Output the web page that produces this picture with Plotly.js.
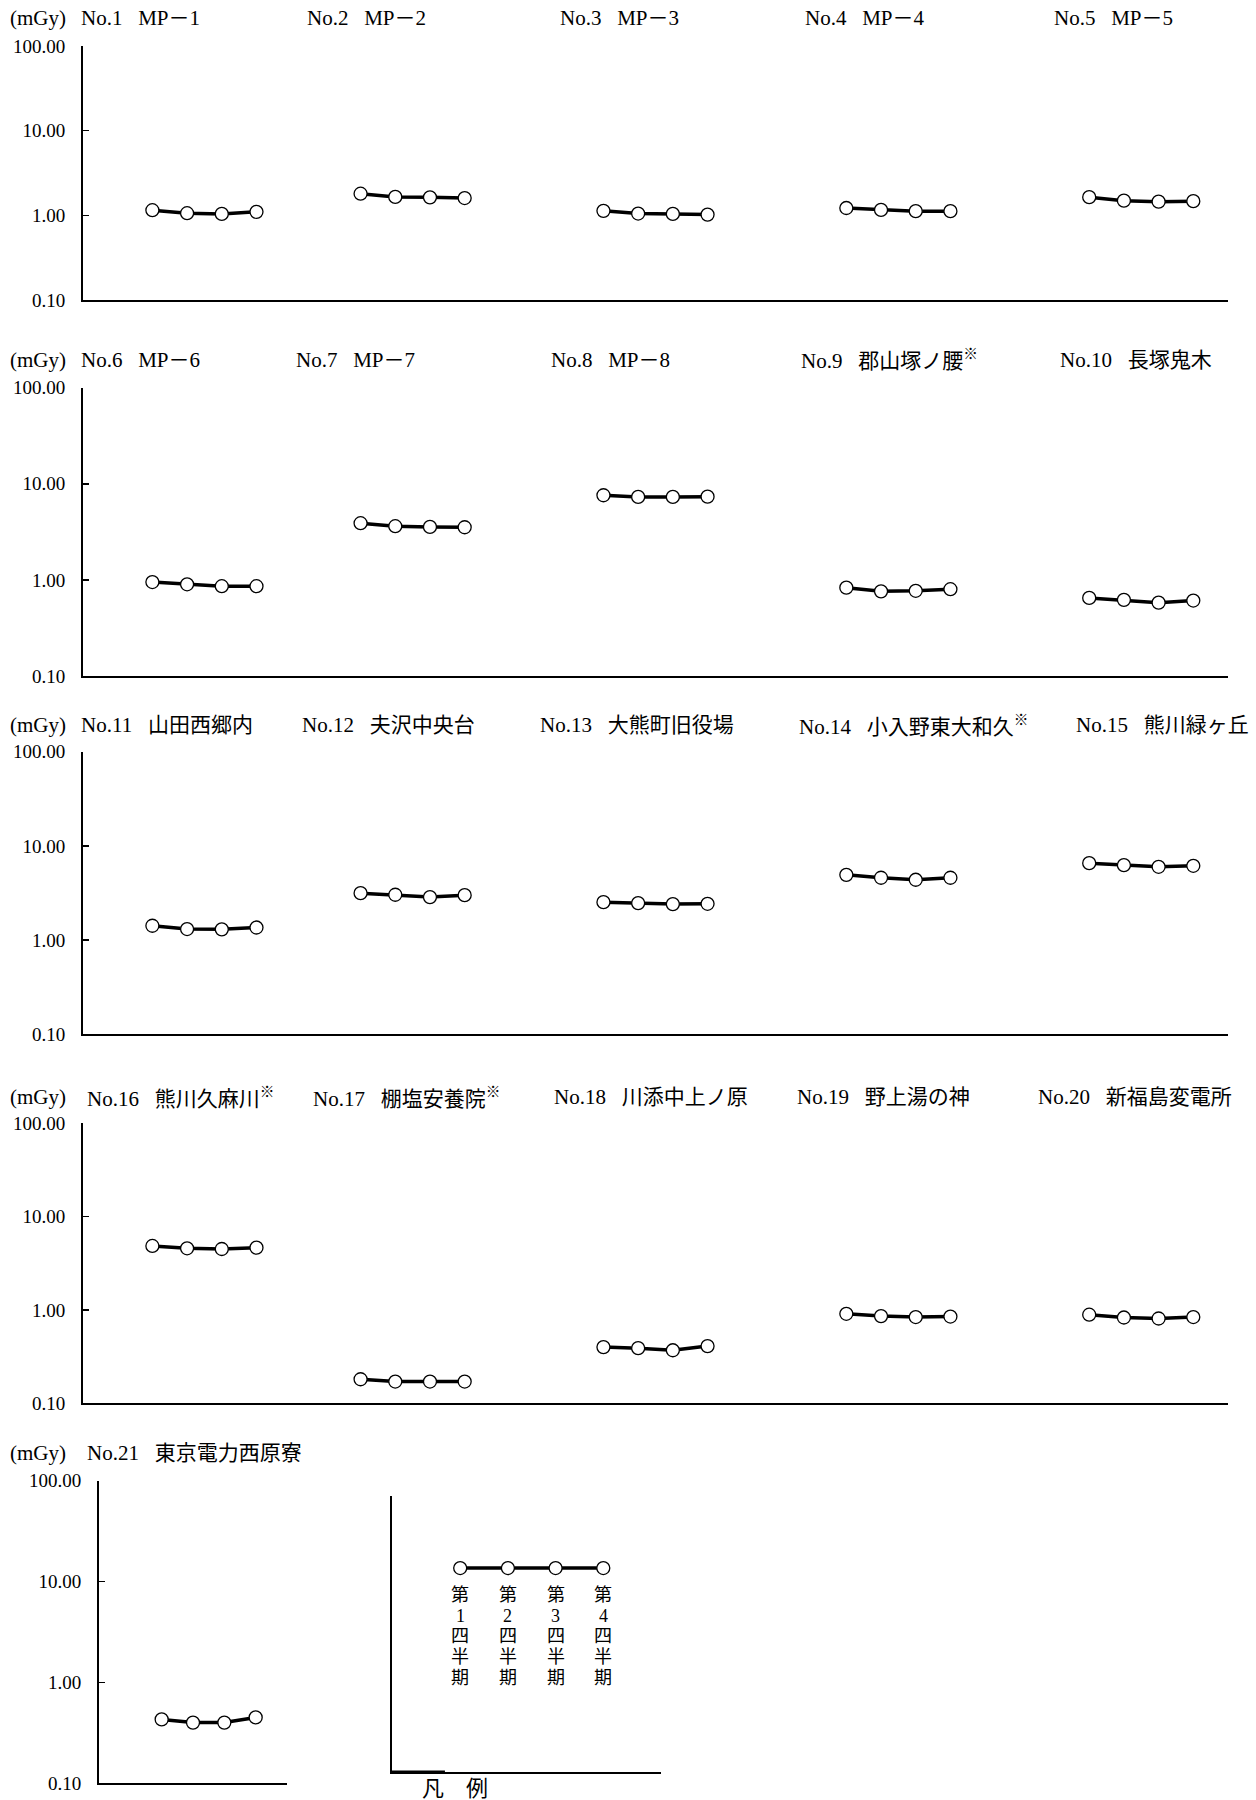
<!DOCTYPE html>
<html>
<head>
<meta charset="utf-8">
<script src="https://cdn.plot.ly/plotly-3.0.1.min.js"></script>
<style>
  html, body { margin: 0; padding: 0; background: #fff; }
  #chart { width: 1256px; height: 1800px; }
</style>
</head>
<body>
<div id="chart"></div>
<script>
// ---------------- data ----------------
const quarters = ["第1四半期", "第2四半期", "第3四半期", "第4四半期"];
const tickValues = [0.1, 1, 10, 100];
const tickLabels = ["0.10", "1.00", "10.00", "100.00"];
const unitLabel = "(mGy)";
const legendTitle = "凡\u3000例";

const stationNo = ["No.1","No.2","No.3","No.4","No.5","No.6","No.7","No.8","No.9","No.10",
  "No.11","No.12","No.13","No.14","No.15","No.16","No.17","No.18","No.19","No.20","No.21"];
const stationName = ["MP－1","MP－2","MP－3","MP－4","MP－5","MP－6","MP－7","MP－8","郡山塚ノ腰","長塚鬼木",
  "山田西郷内","夫沢中央台","大熊町旧役場","小入野東大和久","熊川緑ヶ丘",
  "熊川久麻川","棚塩安養院","川添中上ノ原","野上湯の神","新福島変電所","東京電力西原寮"];
const stationNote = ["","","","","","","","","※","","","","","※","","※","※","","","",""];

const dose_No1  = [1.15, 1.06, 1.04, 1.10];
const dose_No2  = [1.80, 1.65, 1.63, 1.60];
const dose_No3  = [1.13, 1.05, 1.04, 1.02];
const dose_No4  = [1.22, 1.16, 1.12, 1.12];
const dose_No5  = [1.64, 1.49, 1.45, 1.47];
const dose_No6  = [0.95, 0.90, 0.86, 0.86];
const dose_No7  = [3.89, 3.62, 3.56, 3.53];
const dose_No8  = [7.60, 7.30, 7.30, 7.35];
const dose_No9  = [0.83, 0.76, 0.77, 0.80];
const dose_No10 = [0.65, 0.62, 0.58, 0.61];
const dose_No11 = [1.42, 1.31, 1.30, 1.36];
const dose_No12 = [3.15, 3.03, 2.86, 3.00];
const dose_No13 = [2.53, 2.47, 2.41, 2.43];
const dose_No14 = [4.93, 4.59, 4.37, 4.59];
const dose_No15 = [6.56, 6.25, 6.00, 6.15];
const dose_No16 = [4.85, 4.58, 4.50, 4.65];
const dose_No17 = [0.181, 0.171, 0.171, 0.171];
const dose_No18 = [0.40, 0.39, 0.37, 0.41];
const dose_No19 = [0.91, 0.86, 0.84, 0.85];
const dose_No20 = [0.89, 0.83, 0.81, 0.84];
const dose_No21 = [0.43, 0.40, 0.40, 0.45];

const doses = [dose_No1, dose_No2, dose_No3, dose_No4, dose_No5, dose_No6, dose_No7,
  dose_No8, dose_No9, dose_No10, dose_No11, dose_No12, dose_No13, dose_No14, dose_No15,
  dose_No16, dose_No17, dose_No18, dose_No19, dose_No20, dose_No21];

// ---------------- layout geometry (pixels) ----------------
const W = 1256, H = 1800;
const px = v => v / W;
const py = v => 1 - v / H;
const FONT = "'Liberation Serif', 'Noto Sans CJK JP', serif";

const rowGeom = [
  { top: 46,    bottom: 300,    left: 83, right: 1228, xmax: 33, titleY: 18 },
  { top: 387.7, bottom: 676,    left: 83, right: 1228, xmax: 33, titleY: 360 },
  { top: 751.7, bottom: 1034.3, left: 83, right: 1228, xmax: 33, titleY: 725 },
  { top: 1123.3,bottom: 1403.3, left: 83, right: 1228, xmax: 33, titleY: 1097 },
  { top: 1480.7,bottom: 1783.3, left: 99, right: 287,  xmax: 6,  titleY: 1453 }
];
const panelStart = [2, 8, 15, 22, 29];
const titleX = [79, 305, 558, 803, 1052, 79, 294, 549, 799, 1058,
  79, 300, 538, 797, 1074, 85, 311, 552, 795, 1036, 85];

// ---------------- build ----------------
const traces = [];
const annotations = [];
const layout = {
  width: W, height: H, autosize: false,
  margin: { l: 0, r: 0, t: 0, b: 0, pad: 0 },
  paper_bgcolor: "#ffffff", plot_bgcolor: "rgba(0,0,0,0)",
  showlegend: false,
  font: { family: FONT, color: "#000" },
  annotations: annotations,
  shapes: []
};

const lineStyle = { color: "#000", width: 3.5 };
const markerStyle = { symbol: "circle", size: 13, color: "#fff", line: { color: "#000", width: 1.3 } };
const titleFont = { family: FONT, size: 21, color: "#000" };

rowGeom.forEach((g, r) => {
  const sfx = r === 0 ? "" : String(r + 1);
  layout["xaxis" + sfx] = {
    domain: [px(g.left), px(g.right)], range: [0, g.xmax],
    anchor: "y" + sfx, showline: true, linecolor: "#000", linewidth: 2,
    ticks: "", showticklabels: false, showgrid: false, zeroline: false, fixedrange: true
  };
  layout["yaxis" + sfx] = {
    domain: [py(g.bottom), py(g.top)], type: "log", range: [-1, 2],
    anchor: "x" + sfx, showline: true, linecolor: "#000", linewidth: 2,
    tickmode: "array", tickvals: tickValues, ticktext: tickLabels,
    ticks: "inside", ticklen: 6, tickwidth: 1.5, tickcolor: "#000",
    ticklabelstandoff: 12,
    tickfont: { family: FONT, size: 19, color: "#000" },
    showgrid: false, zeroline: false, fixedrange: true
  };
  annotations.push({
    xref: "paper", yref: "paper", x: px(8), y: py(g.titleY),
    xanchor: "left", yanchor: "middle", showarrow: false,
    text: unitLabel, font: titleFont
  });
});

doses.forEach((vals, s) => {
  const r = s < 20 ? Math.floor(s / 5) : 4;
  const k = s < 20 ? s % 5 : 0;
  const sfx = r === 0 ? "" : String(r + 1);
  traces.push({
    type: "scatter", mode: "lines+markers",
    x: vals.map((v, j) => panelStart[k] + j), y: vals,
    xaxis: "x" + sfx, yaxis: "y" + sfx,
    line: lineStyle, marker: markerStyle, cliponaxis: false,
    name: stationNo[s] + " " + stationName[s], hoverinfo: "skip"
  });
  const note = stationNote[s] ? "<sup>" + stationNote[s] + "</sup>" : "";
  annotations.push({
    xref: "paper", yref: "paper", x: px(titleX[s]), y: py(rowGeom[r].titleY),
    xanchor: "left", yanchor: "middle", showarrow: false,
    text: stationNo[s] + "\u2002\u2005" + stationName[s] + note,
    font: titleFont
  });
});

// legend panel
const lg = { left: 392, right: 661, top: 1496, bottom: 1772 };
layout.xaxis6 = {
  domain: [px(lg.left), px(lg.right)], range: [-0.43, 5.21], anchor: "y6",
  showline: true, linecolor: "#000", linewidth: 1.5, ticks: "", showticklabels: false,
  showgrid: false, zeroline: false, fixedrange: true
};
layout.yaxis6 = {
  domain: [py(lg.bottom), py(lg.top)], range: [0, 1], anchor: "x6",
  showline: true, linecolor: "#000", linewidth: 2.5, ticks: "", showticklabels: false,
  showgrid: false, zeroline: false, fixedrange: true
};
layout.shapes.push({
  type: "line", xref: "x6", yref: "y6", x0: -0.43, x1: 0.68, y0: 0, y1: 0,
  line: { color: "#000", width: 3 }
});
const legendLevel = 0.739;
traces.push({
  type: "scatter", mode: "lines+markers",
  x: quarters.map((q, i) => i + 1), y: quarters.map(() => legendLevel),
  xaxis: "x6", yaxis: "y6", line: lineStyle, marker: markerStyle,
  cliponaxis: false, hoverinfo: "skip"
});
quarters.forEach((q, i) => {
  Array.from(q).forEach((ch, c) => {
    annotations.push({
      xref: "x6", yref: "paper", x: i + 1, y: py(1595 + 20.7 * c),
      xanchor: "center", yanchor: "middle", showarrow: false,
      text: ch, font: { family: FONT, size: 18, color: "#000" }
    });
  });
});
annotations.push({
  xref: "paper", yref: "paper", x: px(455), y: py(1788),
  xanchor: "center", yanchor: "middle", showarrow: false,
  text: legendTitle, font: { family: FONT, size: 22, color: "#000" }
});

Plotly.newPlot("chart", traces, layout, { staticPlot: true, displayModeBar: false });
</script>
</body>
</html>
